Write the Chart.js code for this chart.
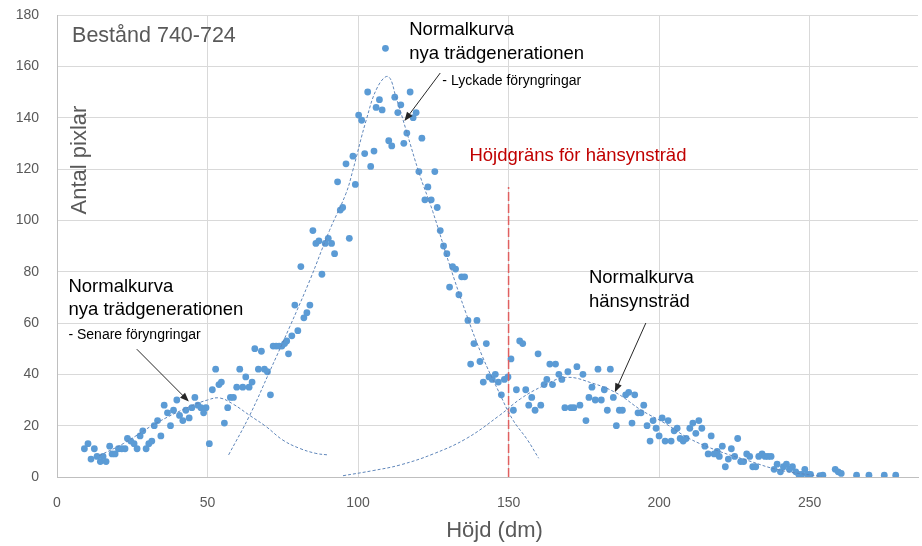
<!DOCTYPE html>
<html>
<head>
<meta charset="utf-8">
<script src="https://cdn.jsdelivr.net/npm/chart.js@4.4.1/dist/chart.umd.min.js"></script>
<style>
  html, body { margin: 0; padding: 0; background: #fff; }
</style>
</head>
<body>
<canvas id="myChart" width="922" height="546"></canvas>
<script>
// mätpunkter: höjd (dm) och antal pixlar
var hojd = [9.1, 10.3, 11.3, 12.4, 13.3, 14.4, 15.3, 16.3, 17.5, 18.3, 19.3, 20.4, 21.5, 22.6, 23.4, 24.5, 25.6, 26.6, 27.6, 28.5,
    29.6, 30.5, 31.5, 32.3, 33.4, 34.5, 35.6, 36.7, 37.7, 38.7, 39.8, 40.7, 41.8, 42.8, 43.9, 44.8, 45.8, 46.8, 47.8, 48.7,
    49.5, 50.6, 51.6, 52.7, 53.8, 54.6, 55.6, 56.7, 57.6, 58.6, 59.7, 60.7, 61.7, 62.7, 63.8, 64.8, 65.7, 66.9, 67.9, 68.9,
    69.9, 70.9, 71.8, 72.8, 73.8, 74.7, 75.6, 76.3, 76.9, 78, 79, 80, 81, 82, 83, 84, 85, 86, 87, 88,
    89.1, 90.1, 91.2, 92.2, 93.2, 94.1, 94.9, 96, 97.1, 98.3, 99.1, 100.2, 101.2, 102.2, 103.2, 104.2, 105.3, 106, 107.1, 108,
    109.1, 110.2, 111.2, 112.2, 113.2, 114.2, 115.2, 116.2, 117.3, 118.3, 119.3, 120.2, 121.2, 122.2, 123.2, 124.3, 125.5, 126.3, 127.3, 128.4,
    129.5, 130.4, 131.4, 132.4, 133.5, 134.4, 135.4, 136.5, 137.4, 138.5, 139.5, 140.5, 141.6, 142.6, 143.5, 144.6, 145.6, 146.6, 147.6, 148.6,
    149.8, 150.8, 151.6, 152.6, 153.7, 154.7, 155.7, 156.7, 157.7, 158.8, 159.8, 160.7, 161.8, 162.7, 163.7, 164.6, 165.6, 166.7, 167.7, 168.7,
    169.7, 170.7, 171.7, 172.7, 173.7, 174.7, 175.7, 176.7, 177.7, 178.8, 179.7, 180.8, 181.8, 182.8, 183.8, 184.8, 185.8, 186.8, 187.8, 188.9,
    189.9, 191, 191.9, 193, 194, 194.9, 196, 197, 198, 199, 200, 201, 202, 203, 204, 205, 206, 207, 208, 209,
    210.2, 211.2, 212.2, 213.2, 214.2, 215.2, 216.3, 217.3, 218.3, 219.3, 220, 221, 222, 223, 224, 225.1, 226.1, 227.1, 228.1, 229.1,
    230.1, 231.1, 232.1, 233.1, 234.2, 235.2, 236.2, 237.2, 238.2, 239.2, 240.3, 241.3, 242.3, 243.3, 244.3, 245.4, 246.4, 247.4, 248.4, 249.4,
    250.3, 253.4, 254.4, 258.5, 259.5, 260.5, 265.6, 269.7, 274.8, 278.6];
var pixlar = [11, 13, 7, 11, 8, 6, 8, 6, 12, 9, 9, 11, 11, 11, 15, 14, 13, 11, 16, 18,
    11, 13, 14, 20, 22, 16, 28, 25, 20, 26, 30, 24, 22, 26, 23, 27, 31, 28, 27, 25,
    27, 13, 34, 42, 36, 37, 21, 27, 31, 31, 35, 42, 35, 39, 35, 37, 50, 42, 49, 42,
    41, 32, 51, 51, 51, 51, 52, 53, 48, 55, 67, 57, 82, 62, 64, 67, 96, 91, 92, 79,
    91, 93, 91, 87, 115, 104, 105, 122, 93, 125, 114, 141, 139, 126, 150, 121, 127, 144, 147, 143,
    167, 131, 129, 148, 142, 145, 130, 134, 150, 140, 142, 119, 132, 108, 113, 108, 119, 105, 96, 90,
    87, 74, 82, 81, 71, 78, 78, 61, 44, 52, 61, 45, 37, 52, 39, 38, 40, 37, 32, 38,
    39, 46, 26, 34, 53, 52, 34, 28, 31, 26, 48, 28, 36, 38, 44, 36, 44, 40, 38, 27,
    41, 27, 27, 43, 28, 40, 22, 31, 35, 30, 42, 30, 34, 26, 42, 31, 20, 26, 26, 32,
    33, 21, 32, 25, 25, 28, 20, 14, 22, 19, 16, 23, 14, 22, 14, 18, 19, 15, 14, 15,
    19, 21, 17, 22, 19, 12, 9, 16, 9, 10, 8, 12, 4, 7, 11, 8, 15, 6, 6, 9,
    8, 4, 4, 8, 9, 8, 8, 8, 3, 5, 2, 4, 5, 3, 4, 2, 1, 1, 3, 1,
    1, 0.5, 0.7, 3, 2, 1.4, 0.7, 0.7, 0.7, 0.7];

// normalkurvor
var senareX = [14, 22, 33, 44, 50, 54, 58.5, 64, 69.5, 75, 80.5, 86, 90];
var senareY = [8.3, 13, 21, 27.4, 30, 30.8, 28.4, 24, 19.6, 14.4, 11.2, 9.2, 8.6];
var lyckadeX = [57, 64, 70.6, 77.3, 84, 90.5, 96, 98.3, 102.7, 106.5, 110, 112.6, 116, 120.4, 124.8, 130.3, 135.8, 141.3, 147, 151.3, 156.3, 160];
var lyckadeY = [8.6, 24, 41, 58.5, 76.7, 96, 110.5, 119.6, 139, 152, 156, 148, 135, 118, 103.5, 83, 64, 47, 32.6, 22.5, 14.4, 7.3];
var hansynX = [95, 105, 114, 125, 136, 147, 154, 161, 169, 178, 186, 194, 202, 210, 220, 229, 240, 254];
var hansynY = [0.5, 2.5, 4.7, 9, 15, 24, 30.5, 35.2, 38.8, 36.5, 32.6, 26.1, 20.9, 15, 10, 6.6, 2.7, 0.2];

// höjdgräns
var gransX = [150, 150];
var gransY = [0, 113];

var xTicks = [0, 50, 100, 150, 200, 250];
var yTicks = [0, 20, 40, 60, 80, 100, 120, 140, 160, 180];

function par(xs, ys) {
    return xs.map(function (x, i) { return { x: x, y: ys[i] }; });
}

var kurvStil = {
    showLine: true,
    fill: false,
    borderColor: '#5f86ba',
    borderWidth: 1,
    borderDash: [3, 2],
    pointRadius: 0,
    tension: 0.4
};

// texter och pilar i datakoordinater
var texter = [
    { t: 'Bestånd 740-724', x: 5, y: 171.8, size: 21.5, color: '#595959' },
    { t: 'Normalkurva', x: 117, y: 174.1, size: 18.5, color: '#000' },
    { t: 'nya trädgenerationen', x: 117, y: 164.8, size: 18.5, color: '#000' },
    { t: '- Lyckade föryngringar', x: 128, y: 154.3, size: 14, color: '#000' },
    { t: 'Höjdgräns för hänsynsträd', x: 137, y: 125, size: 18.5, color: '#c00000' },
    { t: 'Normalkurva', x: 3.8, y: 74, size: 18.5, color: '#000' },
    { t: 'nya trädgenerationen', x: 3.8, y: 65, size: 18.5, color: '#000' },
    { t: '- Senare föryngringar', x: 3.8, y: 55.3, size: 14, color: '#000' },
    { t: 'Normalkurva', x: 176.7, y: 77.5, size: 18.5, color: '#000' },
    { t: 'hänsynsträd', x: 176.7, y: 68.2, size: 18.5, color: '#000' }
];
var pilar = [
    { x1: 127.3, y1: 157.4, x2: 115.4, y2: 138.7 },
    { x1: 26.5, y1: 49.8, x2: 43.8, y2: 29.4 },
    { x1: 195.6, y1: 60, x2: 185.3, y2: 33 }
];

var etiketter = {
    id: 'etiketter',
    afterDraw: function (chart) {
        var c = chart.ctx, xs = chart.scales.x, ys = chart.scales.y;
        c.save();
        c.textBaseline = 'middle';
        c.textAlign = 'left';
        texter.forEach(function (o) {
            c.font = o.size + 'px "Liberation Sans"';
            c.fillStyle = o.color;
            c.fillText(o.t, xs.getPixelForValue(o.x), ys.getPixelForValue(o.y));
        });
        c.strokeStyle = '#262626';
        c.fillStyle = '#262626';
        c.lineWidth = 1;
        pilar.forEach(function (p) {
            var ax = xs.getPixelForValue(p.x1), ay = ys.getPixelForValue(p.y1);
            var bx = xs.getPixelForValue(p.x2), by = ys.getPixelForValue(p.y2);
            var ang = Math.atan2(by - ay, bx - ax);
            c.beginPath();
            c.moveTo(ax, ay);
            c.lineTo(bx - 6 * Math.cos(ang), by - 6 * Math.sin(ang));
            c.stroke();
            c.beginPath();
            c.moveTo(bx, by);
            c.lineTo(bx - 9 * Math.cos(ang) + 3.5 * Math.sin(ang), by - 9 * Math.sin(ang) - 3.5 * Math.cos(ang));
            c.lineTo(bx - 9 * Math.cos(ang) - 3.5 * Math.sin(ang), by - 9 * Math.sin(ang) + 3.5 * Math.cos(ang));
            c.closePath();
            c.fill();
        });
        // axeltitlar
        c.fillStyle = '#595959';
        c.font = '22px "Liberation Sans"';
        c.textAlign = 'center';
        c.fillText('Höjd (dm)', (chart.chartArea.left + chart.chartArea.right) / 2 + 7, 531);
        c.translate(80, 160);
        c.rotate(-Math.PI / 2);
        c.fillText('Antal pixlar', 0, 0);
        c.restore();
    }
};

var ctx = document.getElementById('myChart').getContext('2d');
var myChart = new Chart(ctx, {
    type: 'scatter',
    data: {
        datasets: [
            Object.assign({ label: 'Senare föryngringar', data: par(senareX, senareY) }, kurvStil),
            Object.assign({ label: 'Lyckade föryngringar', data: par(lyckadeX, lyckadeY) }, kurvStil),
            Object.assign({ label: 'Hänsynsträd', data: par(hansynX, hansynY) }, kurvStil),
            {
                label: 'Höjdgräns',
                data: par(gransX, gransY),
                showLine: true,
                borderColor: '#e06060',
                borderWidth: 1.5,
                borderDash: [9, 3],
                pointRadius: 0
            },
            {
                label: 'Antal pixlar',
                data: par(hojd, pixlar),
                backgroundColor: '#5b9bd5',
                borderWidth: 0,
                pointRadius: 3.4
            }
        ]
    },
    options: {
        responsive: false,
        animation: false,
        layout: { padding: { top: 15, right: 2, left: 0, bottom: 0 } },
        plugins: {
            legend: { display: false },
            tooltip: { enabled: false }
        },
        scales: {
            x: {
                type: 'linear',
                min: 0,
                max: 286,
                afterBuildTicks: function (s) { s.ticks = xTicks.map(function (v) { return { value: v }; }); },
                afterFit: function (s) { s.height = 69; s.paddingLeft = 0; s.paddingRight = 0; },
                grid: { color: '#d9d9d9', drawTicks: false },
                border: { color: '#bfbfbf' },
                ticks: { color: '#595959', padding: 18, font: { family: 'Liberation Sans', size: 14 } }
            },
            y: {
                min: 0,
                max: 180,
                afterBuildTicks: function (s) { s.ticks = yTicks.map(function (v) { return { value: v }; }); },
                afterFit: function (s) { s.width = 57; s.paddingTop = 0; s.paddingBottom = 0; },
                grid: { color: '#d9d9d9', drawTicks: false },
                border: { color: '#bfbfbf' },
                ticks: { color: '#595959', padding: 18, font: { family: 'Liberation Sans', size: 14 } }
            }
        }
    },
    plugins: [etiketter]
});
</script>
</body>
</html>
